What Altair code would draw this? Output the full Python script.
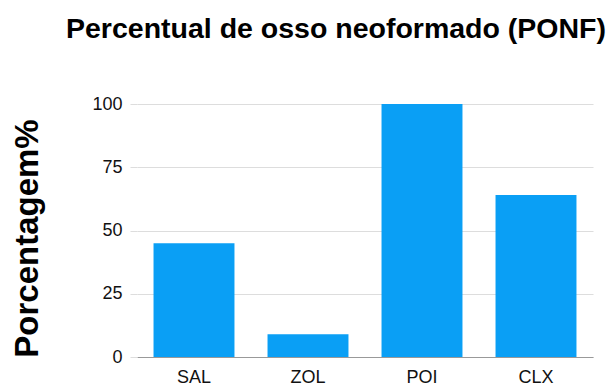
import altair as alt
import pandas as pd

categories = ["SAL", "ZOL", "POI", "CLX"]
values = [45, 9, 100, 64]

df = pd.DataFrame({"grupo": categories, "valor": values})

FONT = "Liberation Sans"

chart = alt.Chart(df).mark_bar(color="#0a9ff5").encode(
    x=alt.X("grupo:N", sort=categories,
            scale=alt.Scale(paddingInner=0.29, paddingOuter=0.145),
            axis=alt.Axis(title=None, labelAngle=0, labelFontSize=18, labelFont=FONT,
                          labelColor="#111111", ticks=False, labelPadding=11,
                          domainColor="#999999", domainWidth=1, grid=False)),
    y=alt.Y("valor:Q", scale=alt.Scale(domain=[0, 100]),
            axis=alt.Axis(title="Porcentagem%", values=[0, 25, 50, 75, 100],
                          labelFontSize=18, labelFont=FONT, labelColor="#111111",
                          domain=False, ticks=True, tickSize=7, tickColor="#dddddd",
                          labelPadding=8, gridColor="#dddddd",
                          titleFont=FONT, titleFontSize=33, titleFontWeight="bold",
                          titleColor="#000000", titleAngle=-90, titleX=-110, titleY=134,
                          titleAlign="center", titleBaseline="middle")),
).properties(
    width=456,
    height=253,
    title=alt.TitleParams("Percentual de osso neoformado (PONF)", font=FONT,
                          fontSize=28.5, fontWeight="bold", color="#000000",
                          anchor="middle", dx=-29, offset=52),
    autosize=alt.AutoSizeParams(type="none"),
    padding={"left": 137, "top": 104, "right": 20, "bottom": 30},
).configure_view(stroke=None)

chart.save("out.html", embed_options={"renderer": "svg", "actions": False})
